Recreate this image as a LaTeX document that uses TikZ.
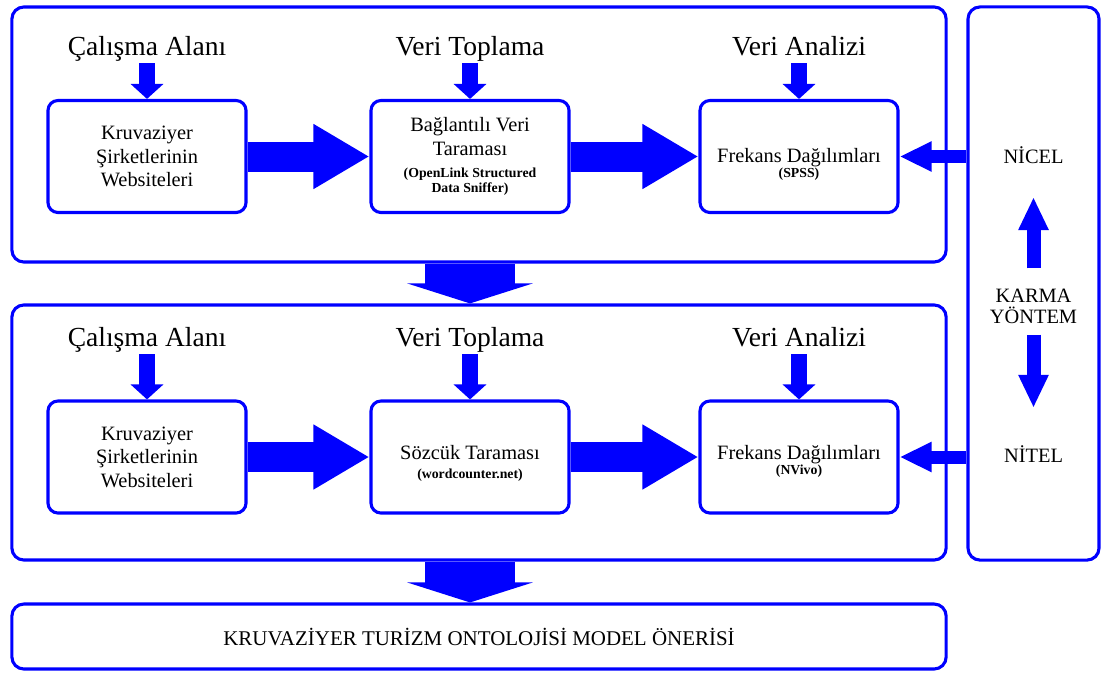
\documentclass[tikz,border=0pt]{standalone}
\usepackage{fontspec}
\setmainfont{Liberation Serif}
\usetikzlibrary{arrows.meta,positioning}

\newcommand{\kucuk}{\fontsize{9.8}{11}\selectfont\bfseries}

\tikzset{
	panel/.style={draw=blue, line width=2.2pt, rounded corners=0.3cm, minimum width=23.35cm, inner sep=0pt},
	kutu/.style={draw=blue, line width=2.2pt, rounded corners=0.25cm, minimum width=4.95cm, minimum height=2.8cm, align=center, inner sep=0pt, font=\fontsize{14.5}{16.7}\selectfont},
	baslik/.style={anchor=base, inner sep=0pt, font=\fontsize{19.6}{23}\selectfont},
	sagyazi/.style={anchor=base, inner sep=0pt, align=center, font=\fontsize{14.5}{15}\selectfont},
	kalinok/.style={blue, line width=0.75cm, -{Triangle[length=1.4cm,width=1.525cm]}},
	genisok/.style={blue, line width=2.25cm, -{Triangle[length=0.5cm,width=3.125cm]}},
	basok/.style={blue, line width=0.4cm, shorten <=0.2cm, -{Triangle[length=0.375cm,width=0.8cm]}},
	solok/.style={blue, line width=0.325cm, -{Triangle[length=0.8cm,width=0.7cm]}},
	dikok/.style={blue, line width=0.35cm, -{Triangle[length=0.825cm,width=0.7cm]}}
}

\begin{document}
\begin{tikzpicture}[x=0.025cm, y=-0.025cm]
			%%%%% START %%%%%
			\def\xa{147}
			\def\xb{470}
			\def\xc{799}
			\def\ya{156.5}
			\def\yb{457}
			\def\ba{55}
			\def\bb{346}
			
			\useasboundingbox (0,0) rectangle (1104,673);
			
			% panels
			\node[panel, minimum height=6.375cm] (ust) at (479,134.5) {};
			\node[panel, minimum height=6.375cm] (orta) at (479,432.5) {};
			\node[panel, minimum height=1.625cm, font=\fontsize{14.9}{17}\selectfont] (oneri) at (479,636.5) {KRUVAZİYER TURİZM ONTOLOJİSİ MODEL ÖNERİSİ};
			\node[panel, minimum width=3.275cm, minimum height=13.825cm] (karmakutu) at (1033.5,283.5) {};
			
			% first row
			\node[baslik] (h1) at (\xa,\ba) {Çalışma Alanı};
			\node[baslik] (h2) at (\xb,\ba) {Veri Toplama};
			\node[baslik] (h3) at (\xc,\ba) {Veri Analizi};
			\node[kutu] (k1) at (\xa,\ya) {Kruvaziyer\\Şirketlerinin\\Websiteleri};
			\node[kutu] (b1) at (\xb,\ya) {Bağlantılı Veri\\[0.6pt]Taraması\\[-0.8pt]{\kucuk (OpenLink Structured}\\[-6pt]{\kucuk Data Sniffer)}};
			\node[kutu] (f1) at (\xc,\ya) {\rule{0pt}{21.5pt}Frekans Dağılımları\\[-6.5pt]{\kucuk (SPSS)}};
			
			% second row
			\node[baslik] (h4) at (\xa,\bb) {Çalışma Alanı};
			\node[baslik] (h5) at (\xb,\bb) {Veri Toplama};
			\node[baslik] (h6) at (\xc,\bb) {Veri Analizi};
			\node[kutu] (k2) at (\xa,\yb) {Kruvaziyer\\Şirketlerinin\\Websiteleri};
			\node[kutu] (s2) at (\xb,\yb) {\rule{0pt}{18.7pt}Sözcük Taraması\\[-3.4pt]{\kucuk (wordcounter.net)}};
			\node[kutu] (f2) at (\xc,\yb) {\rule{0pt}{16.6pt}Frekans Dağılımları\\[-6pt]{\kucuk (NVivo)}};
			
			% mixed method
			\node[sagyazi] (nicel) at (1033.5,163) {NİCEL};
			\node[sagyazi, anchor=center] (karma) at (1033.5,306) {KARMA\\YÖNTEM};
			\node[sagyazi] (nitel) at (1033.5,462) {NİTEL};
			
			\draw[basok] (h1.base) -- (k1);
			\draw[basok] (h2.base) -- (b1);
			\draw[basok] (h3.base) -- (f1);
			\draw[basok] (h4.base) -- (k2);
			\draw[basok] (h5.base) -- (s2);
			\draw[basok] (h6.base) -- (f2);
			
			\draw[kalinok] (k1) -- (b1);
			\draw[kalinok] (b1) -- (f1);
			\draw[kalinok] (k2) -- (s2);
			\draw[kalinok] (s2) -- (f2);
			
			\draw[solok] (karmakutu.west |- f1) -- (f1);
			\draw[solok] (karmakutu.west |- f2) -- (f2);
			
			\draw[dikok, shorten <=0.5cm, shorten >=0.85cm] (karma.north) -- (nicel.base);
			\draw[dikok, shorten <=0.275cm, shorten >=0.925cm] (karma.south) -- (nitel.north);
			
			\draw[genisok] (ust.south -| b1) -- (orta.north -| b1);
			\draw[genisok] (orta.south -| s2) -- (oneri.north -| s2);
			%%%%% END %%%%%
\end{tikzpicture}
\end{document}
